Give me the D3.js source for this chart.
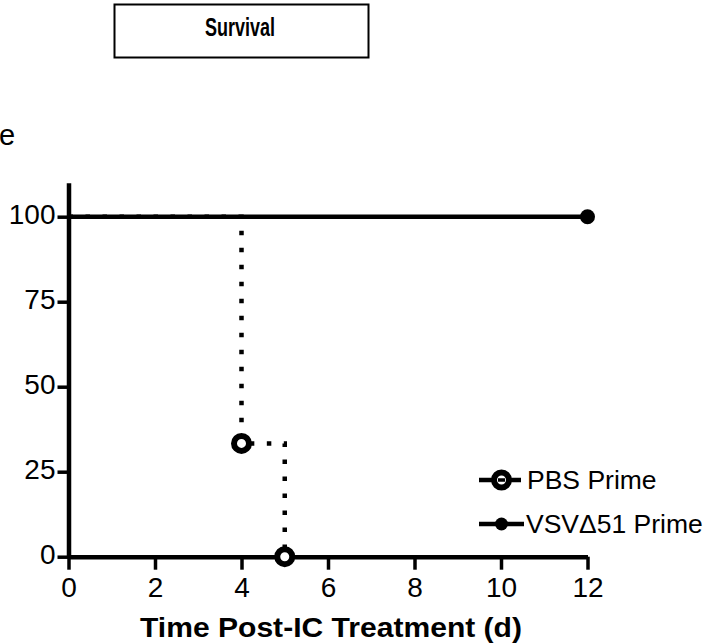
<!DOCTYPE html>
<html>
<head>
<meta charset="utf-8">
<script src="https://cdn.jsdelivr.net/npm/d3@7"></script>
<style>
  body { margin: 0; background: #fff; }
  svg { font-family: "Liberation Sans", Arial, sans-serif; }
  .axis path, .axis line { stroke: #000; }
</style>
</head>
<body>
<svg id="chart" width="709" height="644"></svg>
<script>
// survival data (Kaplan-Meier steps)
var pbsDays = [0, 4, 5];
var pbsSurvival = [100, 33.33, 0];
var vsvDays = [0, 12];
var vsvSurvival = [100, 100];
var xTicks = [0, 2, 4, 6, 8, 10, 12];
var yTicks = [0, 25, 50, 75, 100];
var seriesNames = ["PBS Prime", "VSV\u039451 Prime"];

var svg = d3.select('#chart');

var x = d3.scaleLinear().domain([0, 12]).range([68.5, 587.5]);
var y = d3.scaleLinear().domain([0, 110]).range([556.7, 182.7]);

// title box
svg.append('rect')
    .attr('x', 114.5).attr('y', 4.5)
    .attr('width', 254).attr('height', 53)
    .attr('fill', 'none').attr('stroke', '#000').attr('stroke-width', 2);
svg.append('text')
    .attr('x', 240).attr('y', 35.5)
    .attr('text-anchor', 'middle')
    .attr('font-weight', 'bold')
    .attr('font-size', 25)
    .attr('textLength', 70).attr('lengthAdjust', 'spacingAndGlyphs')
    .text('Survival');

// leftover piece of the cut y label
svg.append('text')
    .attr('x', -1).attr('y', 145)
    .attr('font-size', 29)
    .text('e');

// axes
var yAxis = svg.append('g')
    .attr('class', 'axis')
    .attr('transform', 'translate(' + x(0) + ',0)')
    .call(d3.axisLeft(y).tickValues(yTicks).tickSize(11).tickPadding(2).tickSizeOuter(0));
var xAxis = svg.append('g')
    .attr('class', 'axis')
    .attr('transform', 'translate(0,' + y(0) + ')')
    .call(d3.axisBottom(x).tickValues(xTicks).tickSize(13).tickPadding(7).tickSizeOuter(0));

[yAxis, xAxis].forEach(function(a) {
    a.attr('font-family', null).attr('font-size', null);
    a.select('.domain').attr('stroke-width', 4.5);
    a.selectAll('.tick line').attr('stroke-width', 3.5);
    a.selectAll('.tick text')
        .attr('fill', '#000')
        .attr('font-size', 28);
});
yAxis.selectAll('.tick text').attr('dy', '0.25em');
xAxis.selectAll('.tick text').attr('dy', '0.71em');

// axis title
svg.append('text')
    .attr('x', 331).attr('y', 637)
    .attr('text-anchor', 'middle')
    .attr('font-weight', 'bold')
    .attr('font-size', 28.5)
    .attr('textLength', 382).attr('lengthAdjust', 'spacingAndGlyphs')
    .text('Time Post-IC Treatment (d)');

// PBS dotted step line
var pbsPts = pbsDays.map(function(d, i) { return [d, pbsSurvival[i]]; });
var step = d3.line()
    .x(function(d) { return x(d[0]); })
    .y(function(d) { return y(d[1]); })
    .curve(d3.curveStepAfter);
svg.append('path')
    .datum(pbsPts)
    .attr('d', step)
    .attr('fill', 'none')
    .attr('stroke', '#000')
    .attr('stroke-width', 4.5)
    .attr('stroke-dasharray', '4.5,12.5');

// VSV solid line
var vsvPts = vsvDays.map(function(d, i) { return [d, vsvSurvival[i]]; });
svg.append('path')
    .datum(vsvPts)
    .attr('d', step)
    .attr('fill', 'none')
    .attr('stroke', '#000')
    .attr('stroke-width', 4.5);

// markers
svg.selectAll('circle.pbs')
    .data(pbsPts.slice(1))
    .enter().append('circle')
    .attr('class', 'pbs')
    .attr('cx', function(d) { return x(d[0]); })
    .attr('cy', function(d) { return y(d[1]); })
    .attr('r', 7.5)
    .attr('fill', '#fff')
    .attr('stroke', '#000')
    .attr('stroke-width', 6);
svg.selectAll('circle.vsv')
    .data(vsvPts.slice(1))
    .enter().append('circle')
    .attr('class', 'vsv')
    .attr('cx', function(d) { return x(d[0]); })
    .attr('cy', function(d) { return y(d[1]); })
    .attr('r', 7.5)
    .attr('fill', '#000');

// legend
var lg = svg.append('g');
var rowY = [480, 524];
// PBS entry
lg.append('line')
    .attr('x1', 479).attr('x2', 521)
    .attr('y1', rowY[0]).attr('y2', rowY[0])
    .attr('stroke', '#000').attr('stroke-width', 4.5);
lg.append('circle')
    .attr('cx', 501.5).attr('cy', rowY[0]).attr('r', 7.5)
    .attr('fill', '#fff').attr('stroke', '#000').attr('stroke-width', 6);
lg.append('line')
    .attr('x1', 498).attr('x2', 505)
    .attr('y1', rowY[0]).attr('y2', rowY[0])
    .attr('stroke', '#000').attr('stroke-width', 3.5);
// VSV entry
lg.append('line')
    .attr('x1', 479).attr('x2', 524)
    .attr('y1', rowY[1]).attr('y2', rowY[1])
    .attr('stroke', '#000').attr('stroke-width', 4.5);
lg.append('circle')
    .attr('cx', 501.5).attr('cy', rowY[1]).attr('r', 6.5)
    .attr('fill', '#000');

lg.selectAll('text')
    .data(seriesNames)
    .enter().append('text')
    .attr('x', function(d, i) { return i === 0 ? 527 : 526; })
    .attr('y', function(d, i) { return rowY[i] + 9; })
    .attr('font-size', 26.5)
    .text(function(d) { return d; });
</script>
</body>
</html>
